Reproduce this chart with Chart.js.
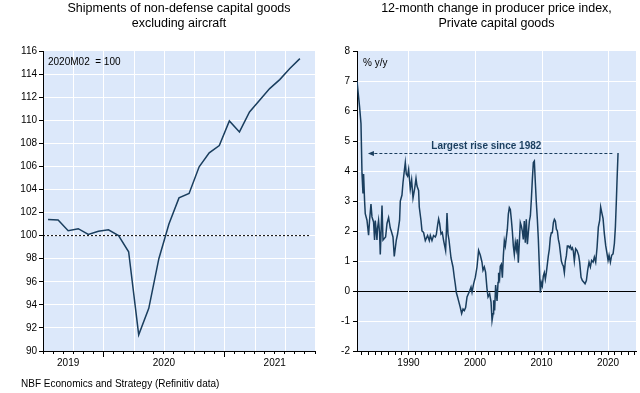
<!DOCTYPE html>
<html lang="en">
<head>
<meta charset="UTF-8" />
<title>Capital goods: shipments and producer prices</title>
<script src="https://cdn.jsdelivr.net/npm/chart.js"></script>
<style>
  * { margin: 0; padding: 0; box-sizing: border-box; }
  body { width: 640px; height: 393px; background: #fff; position: relative; overflow: hidden; font-family: 'Liberation Sans', Arial, sans-serif; }
  .panel { position: absolute; top: 0; width: 320px; height: 393px; }
  #leftPanel { left: 0; }
  #rightPanel { left: 320px; }
  .source { position: absolute; left: 21px; top: 378px; font-size: 10px; line-height: 12px; color: #000; white-space: nowrap; }
</style>
</head>
<body>
  <div class="panel" id="leftPanel"><canvas id="shipChart"></canvas></div>
  <div class="panel" id="rightPanel"><canvas id="ppiChart"></canvas></div>
  <div class="source">NBF Economics and Strategy (Refinitiv data)</div>
<script>
const FONT = "'Liberation Sans', Arial, sans-serif";
const NAVY = '#1a3e5e';
const PLOT_BG = '#dce8fa';

// Shipments of non-defense capital goods ex aircraft, monthly 2019M07 - 2021M08
const shipMonths = ['2019-07','2019-08','2019-09','2019-10','2019-11','2019-12',
  '2020-01','2020-02','2020-03','2020-04','2020-05','2020-06','2020-07','2020-08','2020-09','2020-10','2020-11','2020-12',
  '2021-01','2021-02','2021-03','2021-04','2021-05','2021-06','2021-07','2021-08'];
const shipments = [101.4, 101.35, 100.43, 100.6, 100.1, 100.37,
  100.5, 100.0, 98.6, 91.4, 93.7, 98.0, 101.0, 103.27, 103.65, 105.96, 107.17, 107.81,
  109.94, 108.99, 110.72, 111.73, 112.74, 113.52, 114.48, 115.34];
const shipBase = 100;
const shipYearLabels = ['2019', '2020', '2021'];
const shipYearLabelAt = [2, 11.5, 22.5];   // month index where each year label sits
const shipYearStarts = [5.5, 17.5];        // January boundaries (long ticks)

// PPI private capital goods, 12-month % change
const ppiDates = [
  1982.26, 1982.65, 1982.86, 1983.01, 1983.16, 1983.25, 1983.40, 1983.50, 1983.76, 1984.00,
  1984.15, 1984.36, 1984.51, 1984.75, 1984.90, 1985.01, 1985.26, 1985.35, 1985.50, 1985.65,
  1985.76, 1986.02, 1986.17, 1986.36, 1986.56, 1986.77, 1987.01, 1987.26, 1987.41, 1987.67,
  1987.86, 1988.17, 1988.36, 1988.66, 1988.77, 1989.02, 1989.17, 1989.37, 1989.52, 1989.67,
  1989.86, 1990.02, 1990.27, 1990.47, 1990.68, 1990.92, 1991.13, 1991.28, 1991.52, 1991.62,
  1991.88, 1992.03, 1992.27, 1992.53, 1992.87, 1993.13, 1993.28, 1993.53, 1993.77, 1994.03,
  1994.18, 1994.38, 1994.53, 1994.68, 1994.89, 1995.08, 1995.28, 1995.58, 1995.68, 1995.79,
  1995.94, 1996.09, 1996.39, 1996.69, 1996.89, 1997.04, 1997.19, 1997.38, 1997.59, 1997.79,
  1997.99, 1998.20, 1998.39, 1998.59, 1998.80, 1998.99, 1999.19, 1999.40, 1999.55, 1999.79,
  2000.05, 2000.30, 2000.54, 2000.80, 2001.05, 2001.20, 2001.40, 2001.59, 2001.80, 2001.96,
  2002.20, 2002.41, 2002.56, 2002.71, 2002.80, 2002.95,
  2003.10, 2003.31, 2003.46, 2003.55, 2003.70, 2003.80, 2003.96, 2004.11, 2004.26, 2004.41,
  2004.56, 2004.71, 2004.86, 2005.01, 2005.16, 2005.31, 2005.46, 2005.61, 2005.76, 2005.91,
  2006.06, 2006.21, 2006.36, 2006.51, 2006.66, 2006.81, 2006.96, 2007.11, 2007.26, 2007.41,
  2007.56, 2007.71, 2007.87, 2008.02, 2008.17, 2008.32, 2008.47, 2008.62, 2008.77, 2008.92,
  2009.07, 2009.22, 2009.37, 2009.52, 2009.67, 2009.82, 2009.97, 2010.12, 2010.27, 2010.42,
  2010.57, 2010.72, 2010.87, 2011.02, 2011.17, 2011.32, 2011.47, 2011.62, 2011.78, 2011.93,
  2012.08, 2012.23, 2012.38, 2012.53, 2012.68, 2012.83, 2012.98, 2013.13, 2013.28, 2013.43,
  2013.58, 2013.73, 2013.88, 2014.03, 2014.18, 2014.33, 2014.48, 2014.63, 2014.78, 2014.93,
  2015.13, 2015.34, 2015.58, 2015.73, 2015.94,
  2016.14, 2016.33, 2016.54, 2016.74, 2016.93, 2017.14, 2017.34, 2017.53, 2017.75, 2017.94,
  2018.14, 2018.35, 2018.54, 2018.74, 2018.89, 2019.04, 2019.25, 2019.44, 2019.64, 2019.85,
  2020.00, 2020.15, 2020.35, 2020.54, 2020.75, 2020.95, 2021.10, 2021.25, 2021.35, 2021.50];
const ppiChange = [
  7.0, 6.13, 5.58, 3.92, 3.25, 3.9, 3.0, 2.58, 2.36, 1.86,
  2.36, 2.9, 2.47, 2.3, 1.7, 2.35, 1.7, 2.1, 2.35, 1.95,
  1.22, 2.85, 1.7, 1.75, 1.8, 2.25, 2.45, 2.1, 2.0, 1.8,
  1.15, 1.7, 1.9, 2.36, 3.0, 3.2, 3.6, 4.0, 4.28, 3.9,
  3.83, 4.05, 3.4, 3.7, 3.1, 3.4, 3.75, 3.5, 3.35, 2.8,
  2.35, 2.0, 1.95, 1.68, 1.85, 1.68, 1.85, 1.68, 1.85, 1.8,
  1.88, 2.2, 2.4, 2.25, 1.9, 1.95, 1.68, 1.35, 1.9, 2.6,
  1.9, 1.7, 1.1, 0.8, 0.45, 0.22, -0.05, -0.2, -0.38, -0.55,
  -0.75, -0.6, -0.65, -0.55, -0.2, -0.1, 0.0, 0.13, -0.04, 0.24,
  0.46, 0.8, 1.35, 1.19, 0.96, 0.69, 0.8, 0.63, 0.08, -0.2,
  -0.09, -0.37, -0.98, -0.76, -0.31, -0.65,
  0.2, -0.33, 0.28, 0.61, 0.44, 0.83, 0.89, 0.44, 1.17, 1.67,
  1.5, 1.78, 2.06, 2.56, 2.78, 2.72, 2.39, 2.0, 1.5, 1.22,
  1.61, 1.39, 1.72, 0.94, 1.61, 2.28, 2.17, 2.0, 1.72, 2.33,
  1.61, 2.39, 1.56, 1.94, 2.33, 2.5, 3.06, 3.72, 4.28, 4.33,
  3.61, 2.94, 2.39, 1.72, 0.83, -0.06, 0.28, 0.17, 0.5, 0.61,
  0.39, 0.61, 0.89, 1.17, 1.39, 1.78, 1.94, 1.94, 2.28, 2.39,
  2.33, 2.06, 2.0, 1.72, 1.56, 1.28, 1.0, 0.89, 0.83, 0.61,
  1.0, 1.17, 1.5, 1.5, 1.44, 1.5, 1.39, 1.44, 1.33, 1.0,
  1.41, 1.35, 1.19, 0.96, 0.46,
  0.35, 0.3, 0.24, 0.35, 0.69, 0.96, 0.8, 1.02, 0.96, 1.13,
  0.96, 1.46, 2.13, 2.35, 2.8, 2.63, 2.41, 1.91, 1.52, 1.24,
  1.02, 1.19, 0.96, 1.19, 1.24, 1.58, 2.13, 3.02, 3.69, 4.6];
const ppiAxisMin = 1982.26, ppiAxisMax = 2024.2;
const ppiDecades = [1990, 2000, 2010, 2020];
const peakNote = 'Largest rise since 1982';
const peakLevel = ppiChange[ppiChange.length - 1];
const arrowFrom = 2020.65, arrowTo = 1983.9, noteYear = 2001.7;

// light blue fill behind the plot area
const plotBackground = {
  id: 'plotBackground',
  beforeDraw(chart) {
    const { ctx, chartArea: a } = chart;
    ctx.save();
    ctx.fillStyle = PLOT_BG;
    ctx.fillRect(a.left, a.top, a.right - a.left, a.bottom - a.top);
    ctx.restore();
  }
};

// white vertical grid lines at the values listed in options.plugins.vGrid.at
const vGrid = {
  id: 'vGrid',
  beforeDatasetsDraw(chart, args, opts) {
    const { ctx, chartArea: a } = chart;
    const xs = chart.scales.x;
    ctx.save();
    ctx.strokeStyle = '#fff';
    ctx.lineWidth = 1;
    (opts.at || []).forEach(v => {
      const px = Math.round(xs.getPixelForValue(v)) + 0.5;
      ctx.beginPath();
      ctx.moveTo(px, a.top);
      ctx.lineTo(px, a.bottom);
      ctx.stroke();
    });
    ctx.restore();
  }
};

const near = (a, b) => Math.abs(a - b) < 1e-6;
const tickFont = { family: FONT, size: 10 };
const titleOpts = (lines) => ({
  display: true, text: lines, fullSize: false, color: '#000',
  font: { family: FONT, size: 12.5, weight: 'normal', lineHeight: 1.2 },
  padding: { top: 1, bottom: 20 }
});

// ---- left: shipments index ----
const shipQuarters = [];
for (let m = 3; m < shipments.length + 1; m += 3) shipQuarters.push(m - 0.5);

const shipNotes = {
  id: 'shipNotes',
  afterDraw(chart) {
    const { ctx, chartArea: a } = chart;
    const xs = chart.scales.x;
    ctx.save();
    ctx.strokeStyle = '#000';
    ctx.lineWidth = 1;
    shipYearStarts.forEach(v => {
      const px = Math.round(xs.getPixelForValue(v)) + 0.5;
      ctx.beginPath();
      ctx.moveTo(px, a.bottom);
      ctx.lineTo(px, a.bottom + 6);
      ctx.stroke();
    });
    ctx.fillStyle = '#000';
    ctx.font = '10px ' + FONT;
    ctx.textBaseline = 'middle';
    ctx.fillText('2020M02  = 100', a.left + 5, a.top + 11);
    ctx.restore();
  }
};

new Chart(document.getElementById('shipChart'), {
  type: 'line',
  data: {
    datasets: [
      { data: shipments.map((v, i) => ({ x: i, y: v })), borderColor: NAVY, borderWidth: 1.5, pointRadius: 0, tension: 0 },
      { data: [{ x: -0.5, y: shipBase }, { x: shipments.length, y: shipBase }], borderColor: '#000', borderWidth: 1, borderDash: [2, 2], pointRadius: 0 }
    ]
  },
  options: {
    responsive: true, maintainAspectRatio: false, animation: false, devicePixelRatio: 1,
    layout: { padding: { left: 0, right: 5, top: 0, bottom: 0 } },
    plugins: {
      legend: { display: false }, tooltip: { enabled: false },
      title: titleOpts(['Shipments of non-defense capital goods', 'excluding aircraft']),
      vGrid: { at: shipQuarters }
    },
    scales: {
      x: {
        type: 'linear', min: -0.5, max: shipments.length + 0.5,
        afterBuildTicks: (scale) => {
          const vals = [];
          for (let i = 0; i <= shipments.length + 1; i++) vals.push(i - 0.5);
          shipYearLabelAt.forEach(v => { if (!vals.some(t => near(t, v))) vals.push(v); });
          scale.ticks = vals.sort((a, b) => a - b).map(v => ({ value: v }));
        },
        afterFit: (scale) => { scale.height = 42; },
        grid: {
          color: 'transparent',
          tickColor: (c) => Number.isInteger(c.tick.value + 0.5) ? '#000' : 'transparent',
          tickLength: 3, lineWidth: 1
        },
        border: { display: true, color: '#000', width: 1 },
        ticks: {
          autoSkip: false, maxRotation: 0, padding: 3, color: '#000', font: tickFont,
          callback: (v) => {
            const k = shipYearLabelAt.findIndex(p => near(p, v));
            return k >= 0 ? shipYearLabels[k] : '';
          }
        }
      },
      y: {
        min: 90, max: 116,
        afterFit: (scale) => { scale.width = 43; },
        grid: {
          color: (c) => (c.tick.value === 90 || c.tick.value === 116) ? 'transparent' : '#fff',
          tickColor: '#000', tickLength: 4, lineWidth: 1
        },
        border: { display: true, color: '#000', width: 1 },
        ticks: { stepSize: 2, padding: 2, color: '#000', font: tickFont }
      }
    }
  },
  plugins: [plotBackground, vGrid, shipNotes]
});

// ---- right: PPI y/y ----
const ppiNotes = {
  id: 'ppiNotes',
  afterDraw(chart) {
    const { ctx, chartArea: a } = chart;
    const xs = chart.scales.x, ys = chart.scales.y;
    const y = Math.round(ys.getPixelForValue(peakLevel)) + 0.5;
    const x0 = xs.getPixelForValue(arrowTo), x1 = xs.getPixelForValue(arrowFrom);
    ctx.save();
    ctx.strokeStyle = NAVY;
    ctx.fillStyle = NAVY;
    ctx.lineWidth = 1;
    ctx.setLineDash([3, 2]);
    ctx.beginPath();
    ctx.moveTo(x1, y);
    ctx.lineTo(x0 + 5, y);
    ctx.stroke();
    ctx.setLineDash([]);
    ctx.beginPath();
    ctx.moveTo(x0, y);
    ctx.lineTo(x0 + 6, y - 2.5);
    ctx.lineTo(x0 + 6, y + 2.5);
    ctx.closePath();
    ctx.fill();
    ctx.font = 'bold 10px ' + FONT;
    ctx.textAlign = 'center';
    ctx.textBaseline = 'middle';
    ctx.fillText(peakNote, xs.getPixelForValue(noteYear), y - 7);
    ctx.fillStyle = '#000';
    ctx.font = '10px ' + FONT;
    ctx.textAlign = 'left';
    ctx.fillText('% y/y', a.left + 6, a.top + 12);
    ctx.restore();
  }
};

new Chart(document.getElementById('ppiChart'), {
  type: 'line',
  data: {
    datasets: [
      { data: ppiDates.map((d, i) => ({ x: d, y: ppiChange[i] })), borderColor: NAVY, borderWidth: 1.5, pointRadius: 0, tension: 0 }
    ]
  },
  options: {
    responsive: true, maintainAspectRatio: false, animation: false, devicePixelRatio: 1,
    layout: { padding: { left: 0, right: 4, top: 0, bottom: 0 } },
    plugins: {
      legend: { display: false }, tooltip: { enabled: false },
      title: titleOpts(['12-month change in producer price index,', 'Private capital goods']),
      vGrid: { at: ppiDecades }
    },
    scales: {
      x: {
        type: 'linear', min: ppiAxisMin, max: ppiAxisMax,
        afterBuildTicks: (scale) => {
          const vals = [];
          for (let yr = Math.ceil(ppiAxisMin); yr <= Math.floor(ppiAxisMax); yr++) vals.push({ value: yr });
          scale.ticks = vals;
        },
        afterFit: (scale) => { scale.height = 42; },
        grid: { color: 'transparent', tickColor: '#000', tickLength: 4, lineWidth: 1 },
        border: { display: true, color: '#000', width: 1 },
        ticks: {
          autoSkip: false, maxRotation: 0, padding: 2, color: '#000', font: tickFont,
          callback: (v) => ppiDecades.includes(v) ? String(v) : ''
        }
      },
      y: {
        min: -2, max: 8,
        afterFit: (scale) => { scale.width = 37; },
        grid: {
          color: (c) => c.tick.value === 0 ? '#000' : ((c.tick.value === -2 || c.tick.value === 8) ? 'transparent' : '#fff'),
          tickColor: '#000', tickLength: 4, lineWidth: 1
        },
        border: { display: true, color: '#000', width: 1 },
        ticks: { stepSize: 1, padding: 3, color: '#000', font: tickFont }
      }
    }
  },
  plugins: [plotBackground, vGrid, ppiNotes]
});
</script>
</body>
</html>
